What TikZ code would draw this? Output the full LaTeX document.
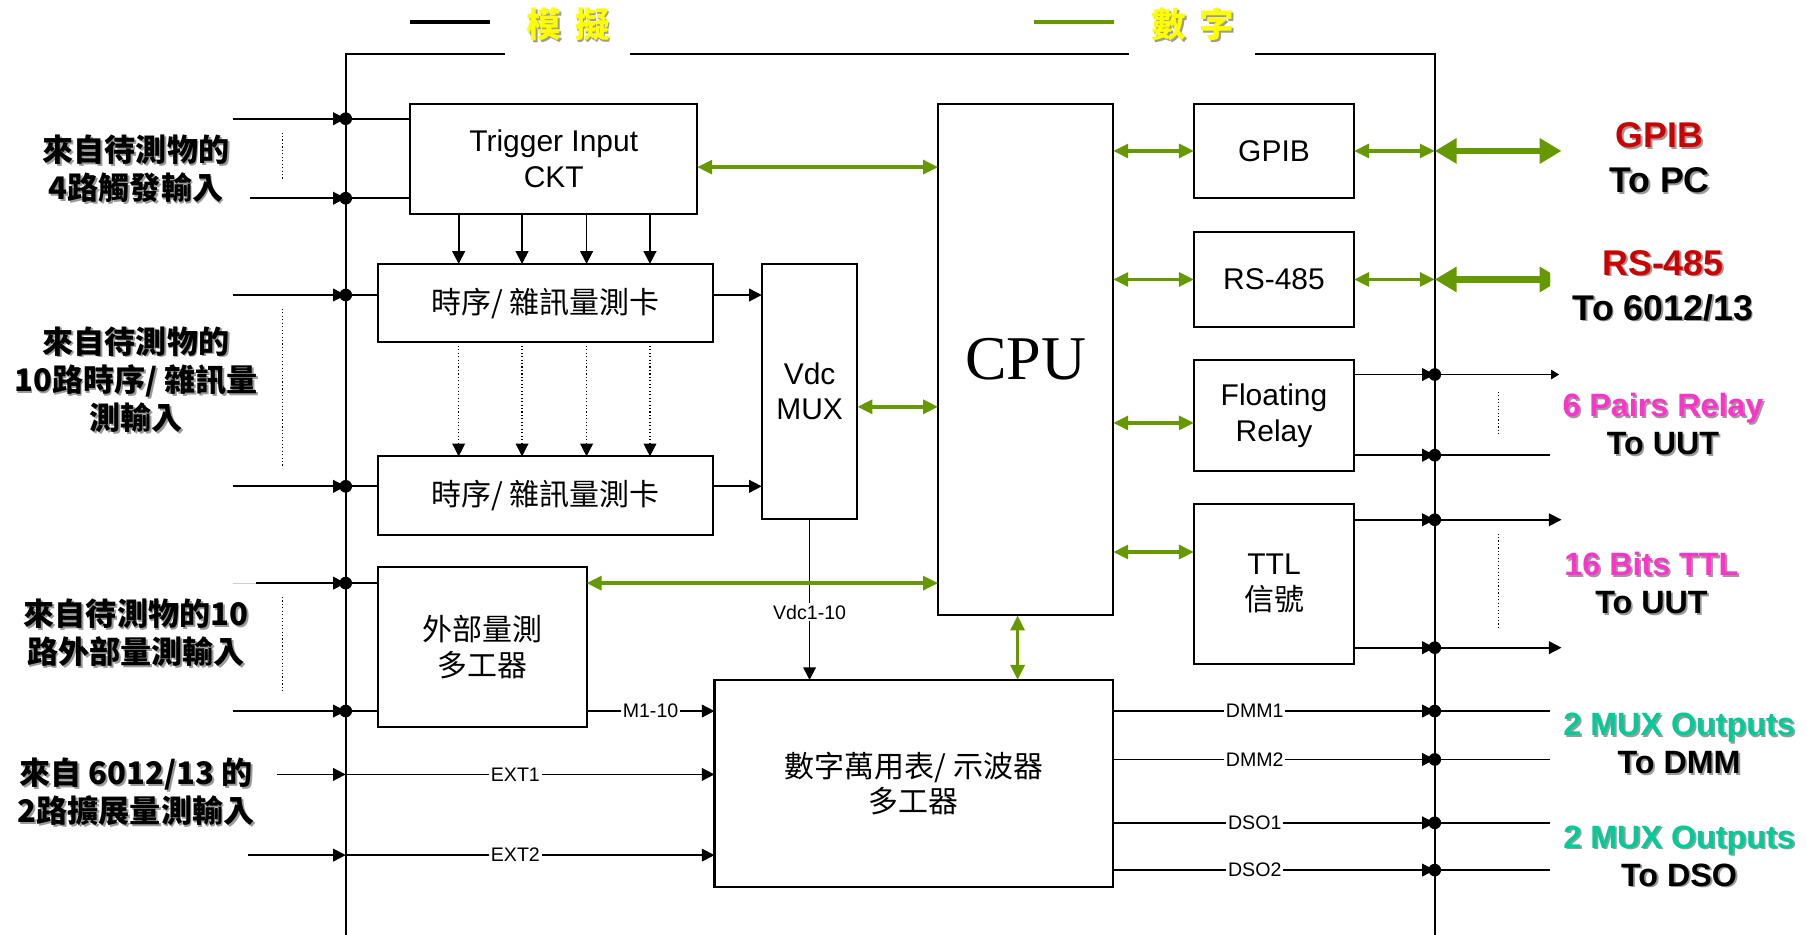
\documentclass[tikz,border=0pt]{standalone}
\usepackage{fontspec}
\setmainfont{Liberation Sans}
\newfontfamily\cjk{Noto Sans CJK TC}
\newfontfamily\cpufont{Liberation Serif}
\usetikzlibrary{arrows.meta,calc}
\definecolor{gr}{HTML}{669900}
\definecolor{shgray}{HTML}{9A9A9A}
\definecolor{legyel}{HTML}{FFFF00}
\definecolor{outred}{HTML}{CC0000}
\definecolor{outmag}{HTML}{FF33CC}
\definecolor{outteal}{HTML}{00CC99}
\newcommand\shad[1]{\makebox[0pt][l]{\kern1.6pt\raisebox{-1.6pt}{\textcolor{shgray}{#1}}}#1}
\begin{document}
\begin{tikzpicture}[x=1pt,y=-1pt,
  blk/.style={draw, line width=1.8pt, inner sep=0pt, outer sep=0pt, align=center, font=\fontsize{26}{31}\selectfont},
  cjkblk/.style={blk, font=\cjk\fontsize{26}{31}\selectfont},
  conn/.style={draw, line width=1.5pt, >={Triangle[length=11pt,width=11pt]}},
  garrow/.style={draw=gr, line width=3pt, <->, >={Triangle[length=13pt,width=12pt]}},
  thickg/.style={draw=gr, line width=6pt, <->, >={Triangle[length=19pt,width=21pt]}},
  lab/.style={fill=white, inner sep=1.5pt, font=\fontsize{17}{20}\selectfont},
  lefttxt/.style={align=center, inner sep=0pt, font=\cjk\bfseries\fontsize{27}{33}\selectfont},
  righttxt/.style={align=center, inner sep=0pt, font=\bfseries\fontsize{28}{33}\selectfont},
  bigtxt/.style={align=center, inner sep=0pt, font=\bfseries\fontsize{31}{39}\selectfont},
  legtxt/.style={inner sep=0pt, text=legyel, font=\cjk\bfseries\fontsize{30}{34}\selectfont},
  dotv/.style={draw, line width=1pt, dotted}
]
\fill[white] (0,0) rectangle (1568,811);
\useasboundingbox (0,0) rectangle (1568,811);

% frame
\coordinate (FTL) at (300,47);
\coordinate (FTR) at (1245,47);
\coordinate (gapA) at (438,47);
\coordinate (gapB) at (547,47);
\coordinate (gapC) at (980,47);
\coordinate (gapD) at (1089,47);
\coordinate (FBL) at (300,811);
\coordinate (FBR) at (1245,811);
\draw[line width=1.6pt] (FBL) -- (FTL) -- (gapA);
\draw[line width=1.6pt] (gapB) -- (gapC);
\draw[line width=1.6pt] (gapD) -- (FTR) -- (FBR);

% legend
\coordinate (la1) at (356,19); \coordinate (la2) at (425,19);
\coordinate (lb1) at (897,19); \coordinate (lb2) at (967,19);
\draw[line width=3pt] (la1) -- (la2);
\draw[line width=3pt, gr] (lb1) -- (lb2);
\node[legtxt] (legA) at (493,22) {\shad{模\hspace{12pt}擬}};
\node[legtxt] (legB) at (1035,22) {\shad{數\hspace{12pt}字}};

% boxes
\node[blk, minimum width=249pt, minimum height=96pt] (trig) at (480.5,138) {Trigger Input\\CKT};
\node[cjkblk, minimum width=291pt, minimum height=68pt] (t1) at (473.5,263) {時序/ 雜訊量測卡};
\node[cjkblk, minimum width=291pt, minimum height=68pt] (t2) at (473.5,430) {時序/ 雜訊量測卡};
\node[blk, minimum width=83pt, minimum height=221pt] (vdc) at (702.5,339.5) {Vdc\\MUX};
\node[blk, minimum width=152pt, minimum height=444pt, font=\cpufont\fontsize{54}{60}\selectfont] (cpu) at (890,312) {CPU};
\node[blk, minimum width=139pt, minimum height=82pt] (gpib) at (1105.5,131) {GPIB};
\node[blk, minimum width=139pt, minimum height=83pt] (rs) at (1105.5,242.5) {RS-485};
\node[blk, minimum width=139pt, minimum height=97pt] (fr) at (1105.5,360.5) {Floating\\Relay};
\node[blk, minimum width=139pt, minimum height=139pt] (ttl) at (1105.5,506.5) {TTL\\{\cjk 信號}};
\node[cjkblk, minimum width=181pt, minimum height=139pt] (ext) at (418.5,561.5) {外部量測\\多工器};
\node[cjkblk, minimum width=346pt, minimum height=180pt] (dmm) at (793,680) {數字萬用表/ 示波器\\多工器};

% trigger -> timing cards
\foreach \dx in {-82.5,-27.5,28.5,83.5} {
  \draw[conn,->] ([xshift=\dx pt]trig.south) -- ([xshift=\dx pt]trig.south |- t1.north);
  \draw[conn,->,line width=1pt,dotted] ([xshift=\dx pt]trig.south |- t1.south) -- ([xshift=\dx pt]trig.south |- t2.north);
}
% timing -> vdc mux
\draw[conn,->] ([yshift=7pt]t1.east) -- ([yshift=7pt]t1.east -| vdc.west);
\draw[conn,->] ([yshift=8pt]t2.east) -- ([yshift=8pt]t2.east -| vdc.west);
% vdc -> dmm
\draw[conn,->] (vdc.south) -- node[lab,pos=0.58] {Vdc1-10} (vdc.south |- dmm.north);
% ext -> dmm
\draw[conn,->] ([yshift=-55.5pt]ext.east) -- node[lab] {M1-10} ([yshift=-55.5pt]ext.east -| dmm.west);

% green buses
\draw[garrow] ([yshift=-7pt]trig.east) -- ([yshift=-7pt]trig.east -| cpu.west);
\draw[garrow] ([yshift=-13.5pt]vdc.east) -- ([yshift=-13.5pt]vdc.east -| cpu.west);
\draw[garrow] ([yshift=55.5pt]ext.east) -- ([yshift=55.5pt]ext.east -| cpu.west);
\draw[garrow] (gpib.west -| cpu.east) -- (gpib.west);
\draw[garrow] (rs.west -| cpu.east) -- (rs.west);
\draw[garrow] ([yshift=-6.5pt]fr.west -| cpu.east) -- ([yshift=-6.5pt]fr.west);
\draw[garrow] ([yshift=27.5pt]ttl.west -| cpu.east) -- ([yshift=27.5pt]ttl.west);
\draw[garrow] ([xshift=-7pt]cpu.south) -- ([xshift=-7pt]cpu.south |- dmm.north);
\draw[garrow] (gpib.east) -- (gpib.east -| FTR);
\draw[garrow] (rs.east) -- (rs.east -| FTR);
\coordinate (gpibout) at (1355,131);
\coordinate (rsout) at (1355,242.5);
\draw[thickg] (gpib.east -| FTR) -- (gpibout);
\begin{scope}
  \clip (1230,215) rectangle (1345,270);
  \draw[thickg] (rs.east -| FTR) -- (rsout);
\end{scope}

% left inputs
\coordinate (i1) at (202,103);
\coordinate (i2) at (217,172);
\coordinate (i3) at (202,256);
\coordinate (i4) at (202,422);
\coordinate (i5) at (222,506);
\coordinate (i5g) at (202,506);
\coordinate (i6) at (202,617);
\coordinate (i7) at (240,672);
\coordinate (i8) at (215,742);
\draw[line width=1pt, shgray!50] (i5g) -- (i5);
\foreach \c/\b in {i1/trig, i2/trig, i3/t1, i4/t2, i5/ext, i6/ext} {
  \draw[conn,->] (\c) -- (\c -| FTL);
  \draw[conn] (\c -| FTL) -- (\c -| \b.west);
  \fill (\c -| FTL) circle[radius=5.5pt];
}
\draw[conn,->] (i7) -- (i7 -| FTL);
\draw[conn,->] (i7 -| FTL) -- node[lab,pos=0.46] {EXT1} (i7 -| dmm.west);
\draw[conn,->] (i8) -- (i8 -| FTL);
\draw[conn,->] (i8 -| FTL) -- node[lab,pos=0.46] {EXT2} (i8 -| dmm.west);

% left dotted marks
\coordinate (d1a) at (245,115); \coordinate (d1b) at (245,157);
\coordinate (d2a) at (245,268); \coordinate (d2b) at (245,406);
\coordinate (d3a) at (245,518); \coordinate (d3b) at (245,600);
\draw[dotv] (d1a) -- (d1b);
\draw[dotv] (d2a) -- (d2b);
\draw[dotv] (d3a) -- (d3b);

% right outputs
\coordinate (o1) at (1353,325);
\coordinate (o2) at (1345,395);
\coordinate (o3) at (1355,451);
\coordinate (o4) at (1355,562);
\coordinate (o5) at (1345,617);
\coordinate (o6) at (1345,659);
\coordinate (o7) at (1345,714);
\coordinate (o8) at (1345,755);
\foreach \c/\b in {o1/fr, o2/fr, o3/ttl, o4/ttl} {
  \draw[conn,->] (\c -| \b.east) -- (\c -| FTR);
  \fill (\c -| FTR) circle[radius=5.5pt];
}
\draw[conn,-{Triangle[length=7pt,width=8pt]}] (o1 -| FTR) -- (o1);
\draw[conn] (o2 -| FTR) -- (o2);
\draw[conn,->] (o3 -| FTR) -- (o3);
\draw[conn,->] (o4 -| FTR) -- (o4);
\foreach \c/\t in {o5/DMM1, o6/DMM2, o7/DSO1, o8/DSO2} {
  \draw[conn,->] (\c -| dmm.east) -- node[lab,pos=0.44] {\t} (\c -| FTR);
  \draw[conn] (\c -| FTR) -- (\c);
  \fill (\c -| FTR) circle[radius=5.5pt];
}
\coordinate (d4a) at (1300,340); \coordinate (d4b) at (1300,378);
\coordinate (d5a) at (1300,463); \coordinate (d5b) at (1300,545);
\draw[dotv] (d4a) -- (d4b);
\draw[dotv] (d5a) -- (d5b);

% left texts
\node[lefttxt] (L1) at (118,147.5) {\shad{來自待測物的}\\\shad{4路觸發輸入}};
\node[lefttxt] (L2) at (118,330) {\shad{來自待測物的}\\\shad{10路時序/ 雜訊量}\\\shad{測輸入}};
\node[lefttxt] (L3) at (118,550) {\shad{來自待測物的10}\\\shad{路外部量測輸入}};
\node[lefttxt] (L4) at (118,688) {\shad{來自 6012/13 的}\\\shad{2路擴展量測輸入}};

% right texts
\node[bigtxt] (R1) at (1440,137.5) {\textcolor{outred}{\shad{GPIB}}\\\shad{To PC}};
\node[bigtxt] (R2) at (1443,248.5) {\textcolor{outred}{\shad{RS-485}}\\\shad{To 6012/13}};
\node[righttxt] (R3) at (1443,368.5) {\textcolor{outmag}{\shad{6 Pairs Relay}}\\\shad{To UUT}};
\node[righttxt] (R4) at (1433,507) {\textcolor{outmag}{\shad{16 Bits TTL}}\\\shad{To UUT}};
\node[righttxt] (R5) at (1457,646) {\textcolor{outteal}{\shad{2 MUX Outputs}}\\\shad{To DMM}};
\node[righttxt] (R6) at (1457,743.5) {\textcolor{outteal}{\shad{2 MUX Outputs}}\\\shad{To DSO}};
\end{tikzpicture}
\end{document}
